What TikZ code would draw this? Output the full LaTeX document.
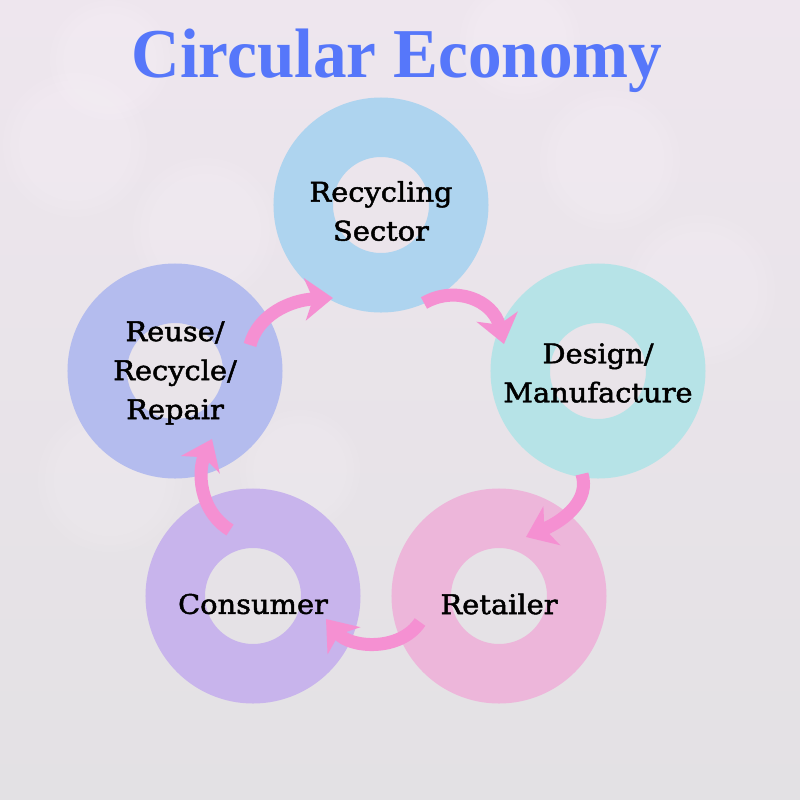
\documentclass[tikz,border=0pt]{standalone}
\usepackage{fontspec}
\newfontfamily\labfont[FakeStretch=1.07,FakeBold=1.8]{DejaVu Serif}
\newfontfamily\titlefont{Liberation Serif}
\usetikzlibrary{arrows.meta}
\definecolor{bgtop}{HTML}{EEE6EE}
\definecolor{bgbot}{HTML}{E3E1E4}
\definecolor{titleblue}{HTML}{5677FA}
\definecolor{cRec}{HTML}{AED4EF}
\definecolor{cDes}{HTML}{B6E3E7}
\definecolor{cRet}{HTML}{EDB6DA}
\definecolor{cCon}{HTML}{C8B4EC}
\definecolor{cReu}{HTML}{B4BCEE}
\definecolor{arrowpink}{HTML}{F590D2}
\tikzset{
  ring/.style={circle, draw=#1, line width=29.75pt, minimum size=77.75pt, inner sep=0pt},
  lab/.style={align=center, text=black, inner sep=0pt, font=\labfont\fontsize{13.5}{19.5}\selectfont},
  flow/.style={draw=arrowpink, line width=6.5pt, -{Stealth[length=14pt,width=21pt,inset=4pt]}},
  bokeh/.style={fill=white, opacity=0.07}
}
\newcommand\bokehspot[3]{%
  \fill[bokeh] (#1,#2) circle (#3);
  \fill[bokeh] (#1,#2) circle (#3*0.9);
  \fill[bokeh] (#1,#2) circle (#3*0.78);
}
\begin{document}
\begin{tikzpicture}[x=0.5pt,y=-0.5pt]
\useasboundingbox (0,0) rectangle (800,800);
\shade[top color=bgtop,bottom color=bgbot] (0,0) rectangle (800,800);
% bokeh background
\bokehspot{75}{145}{72}
\bokehspot{205}{230}{72}
\bokehspot{110}{60}{60}
\bokehspot{700}{290}{75}
\bokehspot{110}{480}{72}
\bokehspot{610}{160}{70}
\bokehspot{520}{40}{60}
\bokehspot{300}{470}{60}
% title
\node[anchor=base, text=titleblue, font=\titlefont\fontsize{35}{40}\selectfont\bfseries] (title) at (397,77) {\scalebox{0.96}[1]{Circular Economy}};
% rings
\node[ring=cRec] (rec) at (381,205) {};
\node[ring=cDes] (des) at (598,371) {};
\node[ring=cRet] (ret) at (499,596) {};
\node[ring=cCon] (con) at (253,596) {};
\node[ring=cReu] (reu) at (175,371) {};
% arrow ends
\coordinate (a1s) at (424,303);
\coordinate (a1e) at (504,344);
\coordinate (a2s) at (582,474);
\coordinate (a2e) at (526,537);
\coordinate (a3s) at (420,622);
\coordinate (a3e) at (326,619);
\coordinate (a4s) at (230,530);
\coordinate (a4e) at (212,439);
\coordinate (a5s) at (250,345);
\coordinate (a5e) at (333,298);
\draw[flow] (a1s) .. controls (455,285) and (493,300) .. (a1e);
\draw[flow] (a2s) .. controls (590,500) and (565,520) .. (a2e);
\draw[flow] (a3s) .. controls (400,652) and (350,648) .. (a3e);
\draw[flow] (a4s) .. controls (198,510) and (198,470) .. (a4e);
\draw[flow] (a5s) .. controls (258,315) and (290,300) .. (a5e);
% labels
\node[lab] (lrec) at (381,211) {Recycling\\Sector};
\node[lab] (ldes) at (598,373) {Design/\\Manufacture};
\node[lab] (lret) at (499,604) {Retailer};
\node[lab] (lcon) at (253,604) {Consumer};
\node[lab] (lreu) at (175,373) {Reuse/\\Recycle/\\Repair};
\end{tikzpicture}
\end{document}
